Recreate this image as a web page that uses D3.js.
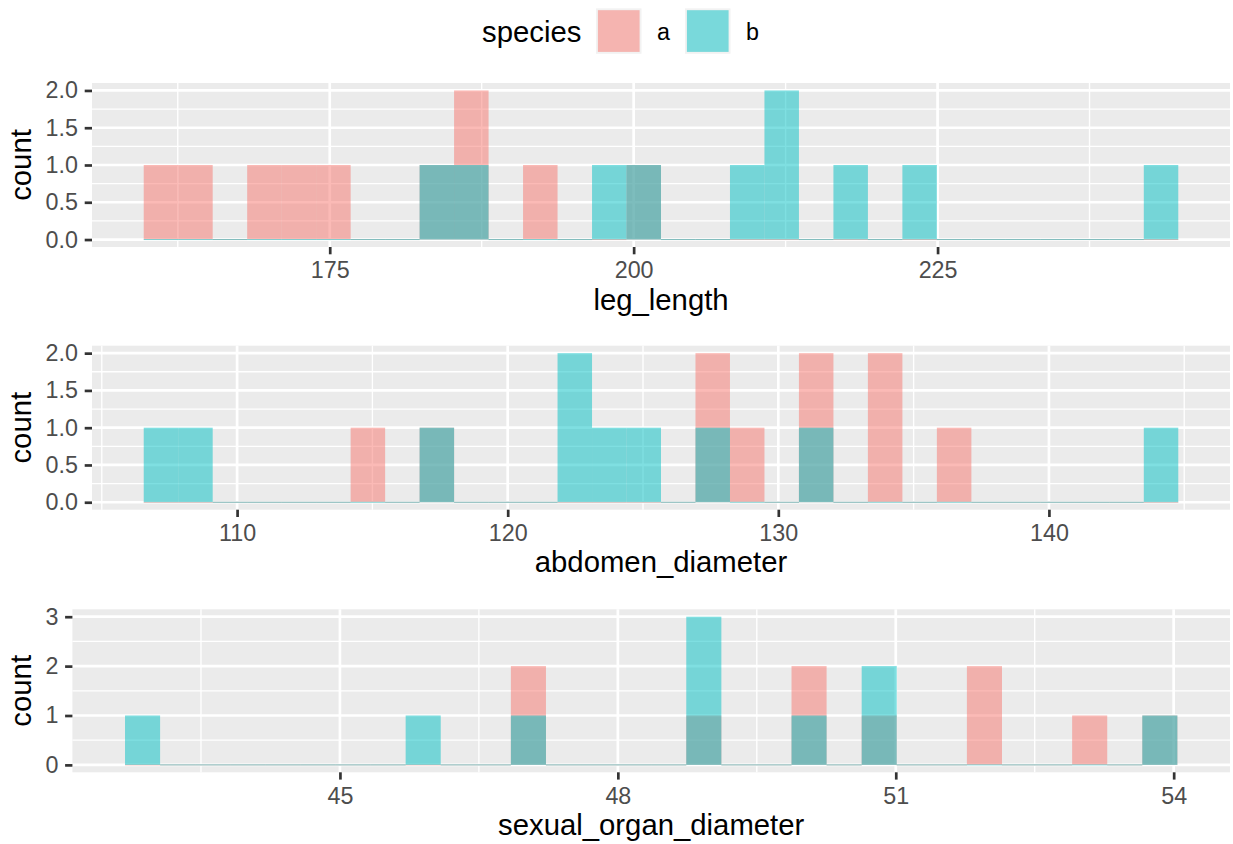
<!DOCTYPE html>
<html>
<head>
<meta charset="utf-8">
<script src="https://cdn.jsdelivr.net/npm/d3@7"></script>
<style>
    body { margin: 0; background: #fff; }
    svg { display: block; font-family: "Liberation Sans", Arial, Helvetica, sans-serif; }
    .tick text { fill: #4D4D4D; font-size: 23.3px; }
    .tick line { stroke: #333333; stroke-width: 2.7px; }
    .domain { display: none; }
</style>
</head>
<body>
<script>
// species and their fills
const species = ['a', 'b']
const speciesColours = ['#F8766D', '#00BFC4']

// 30 bins per panel, counts
const legLengthRange = [159.7, 244.8]
const legLengthA = [1, 1, 0, 1, 1, 1, 0, 0, 1, 2, 0, 1, 0, 0, 1, 0, 0, 0, 0, 0, 0, 0, 0, 0, 0, 0, 0, 0, 0, 0]
const legLengthB = [0, 0, 0, 0, 0, 0, 0, 0, 1, 1, 0, 0, 0, 1, 1, 0, 0, 1, 2, 0, 1, 0, 1, 0, 0, 0, 0, 0, 0, 1]
const legLengthTicks = [175, 200, 225]

const abdomenRange = [106.55, 144.78]
const abdomenA = [0, 0, 0, 0, 0, 0, 1, 0, 1, 0, 0, 0, 0, 0, 0, 0, 2, 1, 0, 2, 0, 2, 0, 1, 0, 0, 0, 0, 0, 0]
const abdomenB = [1, 1, 0, 0, 0, 0, 0, 0, 1, 0, 0, 0, 2, 1, 1, 0, 1, 0, 0, 1, 0, 0, 0, 0, 0, 0, 0, 0, 0, 1]
const abdomenTicks = [110, 120, 130, 140]

const organRange = [42.68, 54.04]
const organA = [0, 0, 0, 0, 0, 0, 0, 0, 0, 0, 0, 2, 0, 0, 0, 0, 1, 0, 0, 2, 0, 1, 0, 0, 2, 0, 0, 1, 0, 1]
const organB = [1, 0, 0, 0, 0, 0, 0, 0, 1, 0, 0, 1, 0, 0, 0, 0, 3, 0, 0, 1, 0, 2, 0, 0, 0, 0, 0, 0, 0, 1]
const organTicks = [45, 48, 51, 54]

const countTicksHalf = [0, 0.5, 1, 1.5, 2]
const countTicksWhole = [0, 1, 2, 3]

const w = 1233
const h = 844
const panelRight = 1230

const panels = [
    { title: 'leg_length', range: legLengthRange, counts: [legLengthA, legLengthB], xTicks: legLengthTicks,
      yTicks: countTicksHalf, yFormat: d3.format('.1f'), left: 92, top: 83, height: 164 },
    { title: 'abdomen_diameter', range: abdomenRange, counts: [abdomenA, abdomenB], xTicks: abdomenTicks,
      yTicks: countTicksHalf, yFormat: d3.format('.1f'), left: 92, top: 345.7, height: 164 },
    { title: 'sexual_organ_diameter', range: organRange, counts: [organA, organB], xTicks: organTicks,
      yTicks: countTicksWhole, yFormat: d3.format('d'), left: 72.4, top: 609.3, height: 163 }
]

const svg = d3.select('body').append('svg')
    .attr('width', w)
    .attr('height', h)

// minor breaks sit halfway between the majors, one step past each end
const minorsOf = (ticks, domain) => {
    const step = ticks[1] - ticks[0]
    const out = [ticks[0] - step / 2]
    ticks.forEach(t => out.push(t + step / 2))
    return out.filter(v => v > domain[0] && v < domain[1])
}

const drawPanel = (p) => {
    const nBins = p.counts[0].length
    const span = p.range[1] - p.range[0]
    const binW = span / nBins
    const xDomain = [p.range[0] - span * 0.05, p.range[1] + span * 0.05]
    const yMax = d3.max(p.counts.flat())
    const yDomain = [-yMax * 0.05, yMax * 1.05]
    const bottom = p.top + p.height

    const xScale = d3.scaleLinear().domain(xDomain).range([p.left, panelRight])
    const yScale = d3.scaleLinear().domain(yDomain).range([bottom, p.top])

    const g = svg.append('g')

    g.append('rect')
        .attr('x', p.left)
        .attr('y', p.top)
        .attr('width', panelRight - p.left)
        .attr('height', p.height)
        .attr('fill', '#EBEBEB')

    const yStep = p.yTicks[1] - p.yTicks[0]
    const yMinors = minorsOf(p.yTicks, yDomain)
    const xMinors = minorsOf(p.xTicks, xDomain)

    g.selectAll('.ymin').data(yMinors).enter().append('line')
        .attr('x1', p.left).attr('x2', panelRight)
        .attr('y1', d => yScale(d)).attr('y2', d => yScale(d))
        .attr('stroke', '#fff').attr('stroke-width', 1.35)
    g.selectAll('.xmin').data(xMinors).enter().append('line')
        .attr('y1', p.top).attr('y2', bottom)
        .attr('x1', d => xScale(d)).attr('x2', d => xScale(d))
        .attr('stroke', '#fff').attr('stroke-width', 1.35)
    g.selectAll('.ymaj').data(p.yTicks).enter().append('line')
        .attr('x1', p.left).attr('x2', panelRight)
        .attr('y1', d => yScale(d)).attr('y2', d => yScale(d))
        .attr('stroke', '#fff').attr('stroke-width', 2.7)
    g.selectAll('.xmaj').data(p.xTicks).enter().append('line')
        .attr('y1', p.top).attr('y2', bottom)
        .attr('x1', d => xScale(d)).attr('x2', d => xScale(d))
        .attr('stroke', '#fff').attr('stroke-width', 2.7)

    // bars, species a first then b on top
    p.counts.forEach((counts, s) => {
        g.selectAll(`.bar${s}`)
            .data(counts)
            .enter()
            .append('rect')
            .attr('x', (d, i) => xScale(p.range[0] + i * binW))
            .attr('width', (d, i) => xScale(p.range[0] + (i + 1) * binW) - xScale(p.range[0] + i * binW))
            .attr('y', d => d > 0 ? yScale(d) : yScale(0) - 0.5)
            .attr('height', d => d > 0 ? yScale(0) - yScale(d) : 1)
            .attr('fill', speciesColours[s])
            .attr('fill-opacity', 0.5)
    })

    const xAxis = d3.axisBottom(xScale).tickValues(p.xTicks).tickSize(7.3).tickPadding(7.4)
    const yAxis = d3.axisLeft(yScale).tickValues(p.yTicks).tickFormat(p.yFormat).tickSize(7.3).tickPadding(6.7)

    g.append('g')
        .attr('transform', `translate(0, ${bottom})`)
        .call(xAxis)
    g.append('g')
        .attr('transform', `translate(${p.left}, 0)`)
        .call(yAxis)

    g.append('text')
        .attr('x', (p.left + panelRight) / 2)
        .attr('y', bottom + 62.5)
        .attr('text-anchor', 'middle')
        .attr('font-size', 29.3)
        .attr('fill', '#000')
        .text(p.title)

    g.append('text')
        .attr('transform', `translate(31, ${p.top + p.height / 2}) rotate(-90)`)
        .attr('text-anchor', 'middle')
        .attr('font-size', 29.3)
        .attr('fill', '#000')
        .text('count')
}

panels.forEach(drawPanel)

// legend on top
const legend = svg.append('g').attr('id', 'legend')
legend.append('text')
    .attr('x', 482)
    .attr('y', 42)
    .attr('font-size', 29.3)
    .attr('fill', '#000')
    .text('species')

const keyX = [596, 685]
const labelX = [657, 746]
species.forEach((sp, i) => {
    legend.append('rect')
        .attr('x', keyX[i])
        .attr('y', 8.3)
        .attr('width', 45.5)
        .attr('height', 45.5)
        .attr('fill', '#F2F2F2')
    legend.append('rect')
        .attr('x', keyX[i] + 1.9)
        .attr('y', 8.3 + 1.9)
        .attr('width', 45.5 - 3.8)
        .attr('height', 45.5 - 3.8)
        .attr('fill', speciesColours[i])
        .attr('fill-opacity', 0.5)
    legend.append('text')
        .attr('x', labelX[i])
        .attr('y', 40)
        .attr('font-size', 23.3)
        .attr('fill', '#000')
        .text(sp)
})
</script>
</body>
</html>
